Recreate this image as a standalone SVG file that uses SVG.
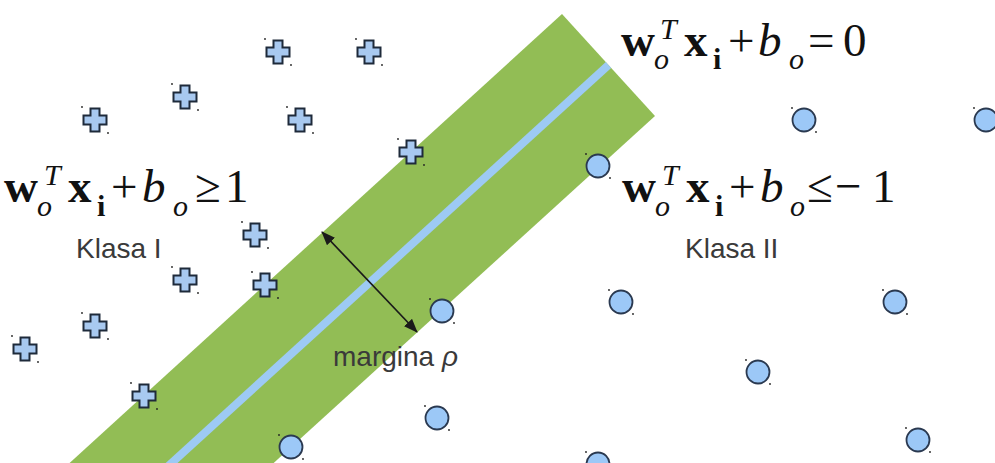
<svg xmlns="http://www.w3.org/2000/svg" xmlns:xlink="http://www.w3.org/1999/xlink" width="995" height="463" viewBox="0 0 995 463">
<style>
.eq{font-family:"Liberation Serif","Times New Roman",serif;font-size:47px;fill:#111111}
.b{font-weight:bold}
.i{font-style:italic}
.si{font-style:italic;font-size:30px}
.sb{font-weight:bold;font-size:30px}
.lbl{font-family:"Liberation Sans",Arial,sans-serif;font-size:28px;fill:#3a3a3a}
.plus{fill:#a8c9f0;stroke:#1e2a3a;stroke-width:2;stroke-linejoin:miter}
.circ{fill:#9cc8f7;stroke:#2a3950;stroke-width:1.8}
.dot{fill:#222}
.conn{stroke:#1a1a1a;stroke-width:1.7;fill:none}
</style>
<defs>
<g id="plusShape">
<path class="plus" d="M -4.5,-11.5 H 4.5 V -4.5 H 11.5 V 4.5 H 4.5 V 11.5 H -4.5 V 4.5 H -11.5 V -4.5 H -4.5 Z"/>
<circle class="dot" cx="-13" cy="-13" r="0.9"/>
<circle class="dot" cx="13" cy="13" r="0.9"/>
</g>
<g id="circShape">
<circle class="circ" cx="0" cy="0" r="11.5"/>
<circle class="dot" cx="-12" cy="-12" r="0.9"/>
<circle class="dot" cx="12" cy="12" r="0.9"/>
</g>
<marker id="ah" viewBox="0 0 14 11" refX="13" refY="5.5" markerWidth="14" markerHeight="11" markerUnits="userSpaceOnUse" orient="auto-start-reverse">
<path d="M0,0 L14,5.5 L0,11 Z" fill="#1a1a1a"/>
</marker>
</defs>
<rect width="995" height="463" fill="#ffffff"/>
<g id="margin-band">
<polygon points="562,14 655,116 233,500 29,500" fill="#92bd55"/>
<line x1="608.5" y1="65" x2="131" y2="500" stroke="#9dcaf4" stroke-width="8"/>
</g>
<g id="connectors">
<line class="conn" x1="322" y1="232" x2="417" y2="332" marker-start="url(#ah)" marker-end="url(#ah)"/>
</g>
<g id="class1-points">
<g id="p1" transform="translate(278,52)"><use xlink:href="#plusShape"/></g>
<g id="p2" transform="translate(369,52)"><use xlink:href="#plusShape"/></g>
<g id="p3" transform="translate(185,97)"><use xlink:href="#plusShape"/></g>
<g id="p4" transform="translate(95,120)"><use xlink:href="#plusShape"/></g>
<g id="p5" transform="translate(300,120)"><use xlink:href="#plusShape"/></g>
<g id="p6" transform="translate(411,152)"><use xlink:href="#plusShape"/></g>
<g id="p7" transform="translate(255,235)"><use xlink:href="#plusShape"/></g>
<g id="p8" transform="translate(185,280)"><use xlink:href="#plusShape"/></g>
<g id="p9" transform="translate(265,285)"><use xlink:href="#plusShape"/></g>
<g id="p10" transform="translate(95,326)"><use xlink:href="#plusShape"/></g>
<g id="p11" transform="translate(25,349)"><use xlink:href="#plusShape"/></g>
<g id="p12" transform="translate(144,396)"><use xlink:href="#plusShape"/></g>
</g>
<g id="class2-points">
<g id="c1" transform="translate(804,120)"><use xlink:href="#circShape"/></g>
<g id="c2" transform="translate(986,120)"><use xlink:href="#circShape"/></g>
<g id="c3" transform="translate(598,166)"><use xlink:href="#circShape"/></g>
<g id="c4" transform="translate(442,311)"><use xlink:href="#circShape"/></g>
<g id="c5" transform="translate(621,302)"><use xlink:href="#circShape"/></g>
<g id="c6" transform="translate(895,302)"><use xlink:href="#circShape"/></g>
<g id="c7" transform="translate(758,372)"><use xlink:href="#circShape"/></g>
<g id="c8" transform="translate(437,418)"><use xlink:href="#circShape"/></g>
<g id="c9" transform="translate(291,447)"><use xlink:href="#circShape"/></g>
<g id="c10" transform="translate(598,464)"><use xlink:href="#circShape"/></g>
<g id="c11" transform="translate(918,440)"><use xlink:href="#circShape"/></g>
</g>
<g id="eq-hyperplane">
<text class="eq"><tspan x="621" y="56" class="b">w</tspan><tspan x="660" y="39" class="si">T</tspan><tspan x="654" y="69" class="si">o</tspan><tspan x="684" y="56" class="b">x</tspan><tspan x="713" y="69" class="sb">i</tspan><tspan x="728" y="56">+</tspan><tspan x="758" y="56" class="i">b</tspan><tspan x="789" y="69" class="si">o</tspan><tspan x="808" y="56">=</tspan><tspan x="843" y="56">0</tspan></text>
</g>
<g id="eq-class1">
<text class="eq"><tspan x="4" y="202" class="b">w</tspan><tspan x="44" y="185" class="si">T</tspan><tspan x="37" y="216" class="si">o</tspan><tspan x="68" y="202" class="b">x</tspan><tspan x="97" y="216" class="sb">i</tspan><tspan x="111" y="202">+</tspan><tspan x="142" y="202" class="i">b</tspan><tspan x="173" y="216" class="si">o</tspan><tspan x="195" y="202">≥</tspan><tspan x="225" y="202">1</tspan></text>
<text class="lbl" x="76" y="258">Klasa I</text>
</g>
<g id="eq-class2">
<text class="eq"><tspan x="622" y="202" class="b">w</tspan><tspan x="662" y="185" class="si">T</tspan><tspan x="655" y="216" class="si">o</tspan><tspan x="686" y="202" class="b">x</tspan><tspan x="715" y="216" class="sb">i</tspan><tspan x="729" y="202">+</tspan><tspan x="760" y="202" class="i">b</tspan><tspan x="790" y="216" class="si">o</tspan><tspan x="807" y="202">≤</tspan><tspan x="835" y="202">−</tspan><tspan x="872" y="202">1</tspan></text>
<text class="lbl" x="685" y="258">Klasa II</text>
</g>
<g id="margin-label">
<text class="lbl" x="333" y="366">margina <tspan font-style="italic">ρ</tspan></text>
</g>
</svg>
